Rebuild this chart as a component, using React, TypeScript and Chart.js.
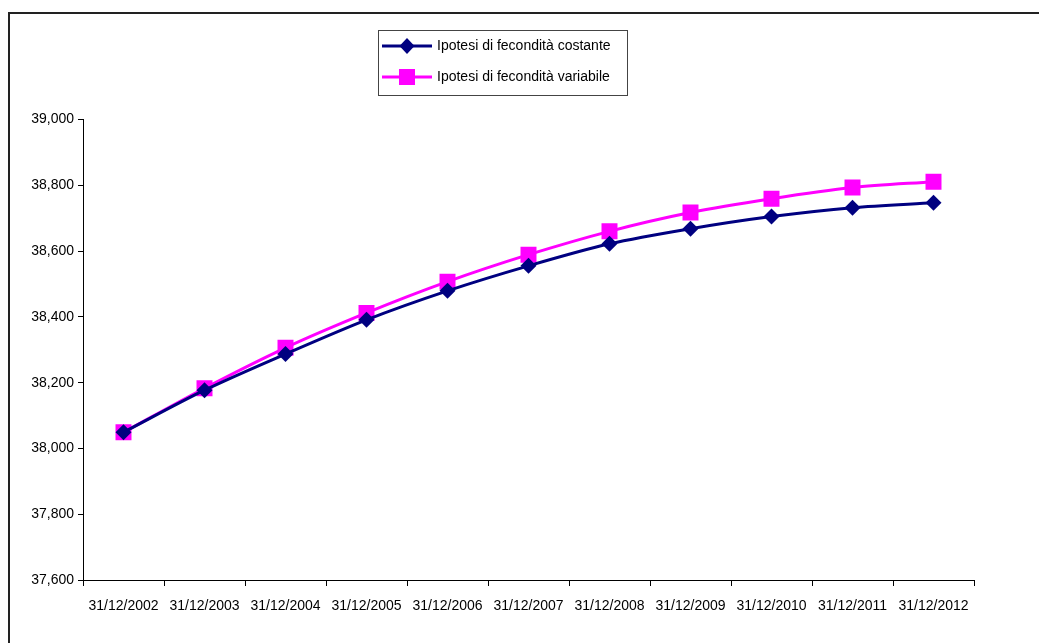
import React, { useEffect, useRef } from "react";
import { Chart, registerables } from "chart.js";

Chart.register(...registerables);

const categories = [
  "31/12/2002", "31/12/2003", "31/12/2004", "31/12/2005", "31/12/2006", "31/12/2007",
  "31/12/2008", "31/12/2009", "31/12/2010", "31/12/2011", "31/12/2012",
];

const fecConstante = [38049, 38177, 38287, 38391, 38479, 38555, 38622, 38668, 38705, 38732, 38747];
const fecVariabile = [38049, 38183, 38306, 38412, 38507, 38589, 38660, 38717, 38759, 38793, 38811];

const seriesNames = ["Ipotesi di fecondità costante", "Ipotesi di fecondità variabile"];
const seriesColors = ["#000080", "#FF00FF"];

const FONT = "'Liberation Sans', Arial, sans-serif";

// Outer frame (top and left edges) plus a boxed legend with line + marker samples
const framePlugin = {
  id: "frameAndLegend",
  afterDraw(chart: Chart) {
    const ctx = chart.ctx;
    ctx.save();
    ctx.strokeStyle = "#222";
    ctx.lineWidth = 2;
    ctx.beginPath();
    ctx.moveTo(9, chart.height);
    ctx.lineTo(9, 13);
    ctx.lineTo(chart.width, 13);
    ctx.stroke();

    // legend box
    const bx = 378.5, by = 30.5, bw = 249, bh = 65;
    ctx.lineWidth = 1;
    ctx.strokeStyle = "#444";
    ctx.fillStyle = "#fff";
    ctx.fillRect(bx, by, bw, bh);
    ctx.strokeRect(bx, by, bw, bh);

    const rows = [46, 77];
    chart.data.datasets.forEach((ds: any, i: number) => {
      const y = rows[i];
      ctx.strokeStyle = seriesColors[i];
      ctx.lineWidth = 3;
      ctx.beginPath();
      ctx.moveTo(382, y);
      ctx.lineTo(432, y);
      ctx.stroke();
      ctx.fillStyle = seriesColors[i];
      ctx.beginPath();
      if (i === 0) {
        ctx.moveTo(407, y - 8);
        ctx.lineTo(414.5, y);
        ctx.lineTo(407, y + 8);
        ctx.lineTo(399.5, y);
        ctx.closePath();
      } else {
        ctx.rect(399, y - 8, 16, 16);
      }
      ctx.fill();
      ctx.fillStyle = "#000";
      ctx.font = `14px ${FONT}`;
      ctx.textBaseline = "middle";
      ctx.textAlign = "left";
      ctx.fillText(ds.label, 437, y);
    });
    ctx.restore();
  },
};

export default function App() {
  const ref = useRef<HTMLCanvasElement | null>(null);

  useEffect(() => {
    if (!ref.current) return;
    const chart = new Chart(ref.current, {
      type: "line",
      data: {
        labels: categories,
        datasets: [
          {
            label: seriesNames[0],
            data: fecConstante,
            borderColor: seriesColors[0],
            backgroundColor: seriesColors[0],
            borderWidth: 3,
            pointStyle: "rectRot",
            pointRadius: 8,
            pointBorderWidth: 0,
            tension: 0.3,
          },
          {
            label: seriesNames[1],
            data: fecVariabile,
            borderColor: seriesColors[1],
            backgroundColor: seriesColors[1],
            borderWidth: 3,
            pointStyle: "rect",
            pointRadius: 11.3,
            pointBorderWidth: 0,
            tension: 0.3,
          },
        ],
      },
      options: {
        animation: false,
        responsive: false,
        layout: { padding: { top: 119.5, right: 65, left: 0, bottom: 0 } },
        plugins: { legend: { display: false }, tooltip: { enabled: false } },
        scales: {
          x: {
            type: "category",
            offset: true,
            grid: { display: true, drawOnChartArea: false, offset: true, tickLength: 6, color: "#000", lineWidth: 1 },
            border: { display: true, color: "#000", width: 1 },
            ticks: { color: "#000", font: { family: FONT, size: 14 }, padding: 12, maxRotation: 0, autoSkip: false },
            afterFit(scale: any) {
              scale.height = 63;
            },
          },
          y: {
            min: 37600,
            max: 39000,
            grid: { display: true, drawOnChartArea: false, tickLength: 5, color: "#000", lineWidth: 1 },
            border: { display: true, color: "#000", width: 1 },
            ticks: {
              stepSize: 200,
              color: "#000",
              font: { family: FONT, size: 14 },
              padding: 4,
              callback: (v: any) => Number(v).toLocaleString("en-US"),
            },
            afterFit(scale: any) {
              scale.width = 83;
            },
          },
        },
      },
      plugins: [framePlugin],
    });
    return () => chart.destroy();
  }, []);

  return (
    <div style={{ position: "fixed", left: 0, top: 0, width: 1039, height: 643, background: "#fff" }}>
      <canvas ref={ref} width={1039} height={643} style={{ display: "block" }} />
    </div>
  );
}
